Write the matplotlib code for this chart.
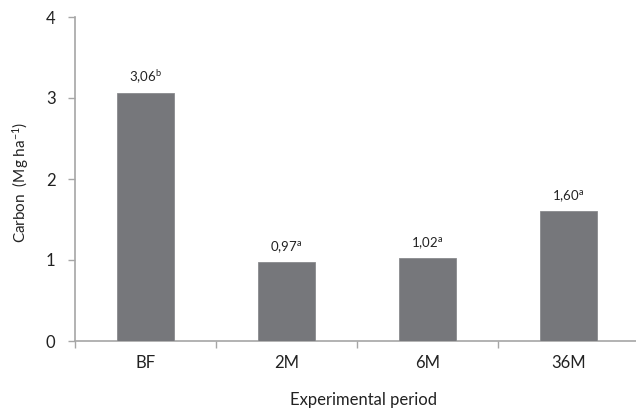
import matplotlib
matplotlib.use("Agg")
import matplotlib.pyplot as plt
import numpy as np

categories = ["BF", "2M", "6M", "36M"]
values = [3.06, 0.97, 1.02, 1.60]
value_text = ["3,06", "0,97", "1,02", "1,60"]
letters = ["b", "a", "a", "a"]
yticks = [0, 1, 2, 3, 4]

plt.rcParams['font.family'] = ['Lato', 'DejaVu Sans']
plt.rcParams['mathtext.fontset'] = 'custom'
plt.rcParams['mathtext.rm'] = 'Lato'
plt.rcParams['mathtext.it'] = 'Lato'

fig = plt.figure(figsize=(6.36, 4.12), dpi=100)
ax = fig.add_axes([75/636, 1-341/412, 564/636, (341-17)/412])

x = np.arange(len(categories))
bars = ax.bar(x, values, width=0.4, color="#76777b", edgecolor="#8a8b8e", linewidth=0.6, zorder=3)

ax.set_xlim(-0.5, len(categories)-0.5)
ax.set_ylim(0, 4)
ax.set_yticks(yticks)
ax.set_yticklabels([str(t) for t in yticks], fontsize=12, color="#222222")

ax.set_xticks(x)
ax.set_xticklabels(categories, fontsize=12, color="#222222")
ax.tick_params(axis='x', which='major', length=0, pad=10)
ax.set_xticks(np.arange(-0.5, len(categories)), minor=True)
ax.tick_params(axis='x', which='minor', length=5, color="#a6a6a6", width=1, direction='out')
ax.tick_params(axis='y', length=5, color="#a6a6a6", width=1, direction='out', pad=9)

for s in ['top', 'right']:
    ax.spines[s].set_visible(False)
for s in ['left', 'bottom']:
    ax.spines[s].set_color("#a6a6a6")
    ax.spines[s].set_linewidth(1.2)

for xi, v, t, l in zip(x, values, value_text, letters):
    ax.annotate(t + r"$^{\mathrm{" + l + r"}}$", (xi, v), xytext=(0, 5.5), textcoords='offset points',
                ha='center', va='bottom', fontsize=9.5, color="#222222")

fig.text(364/636, 1-400/412, "Experimental period", ha='center', va='center', fontsize=12, color="#222222")
fig.text(21/636, 1-182/412, r"Carbon  (Mg ha$^{\mathrm{-1}}$)", ha='center', va='center',
         rotation=90, fontsize=11, color="#222222")

fig.savefig("out.png", dpi=100)
